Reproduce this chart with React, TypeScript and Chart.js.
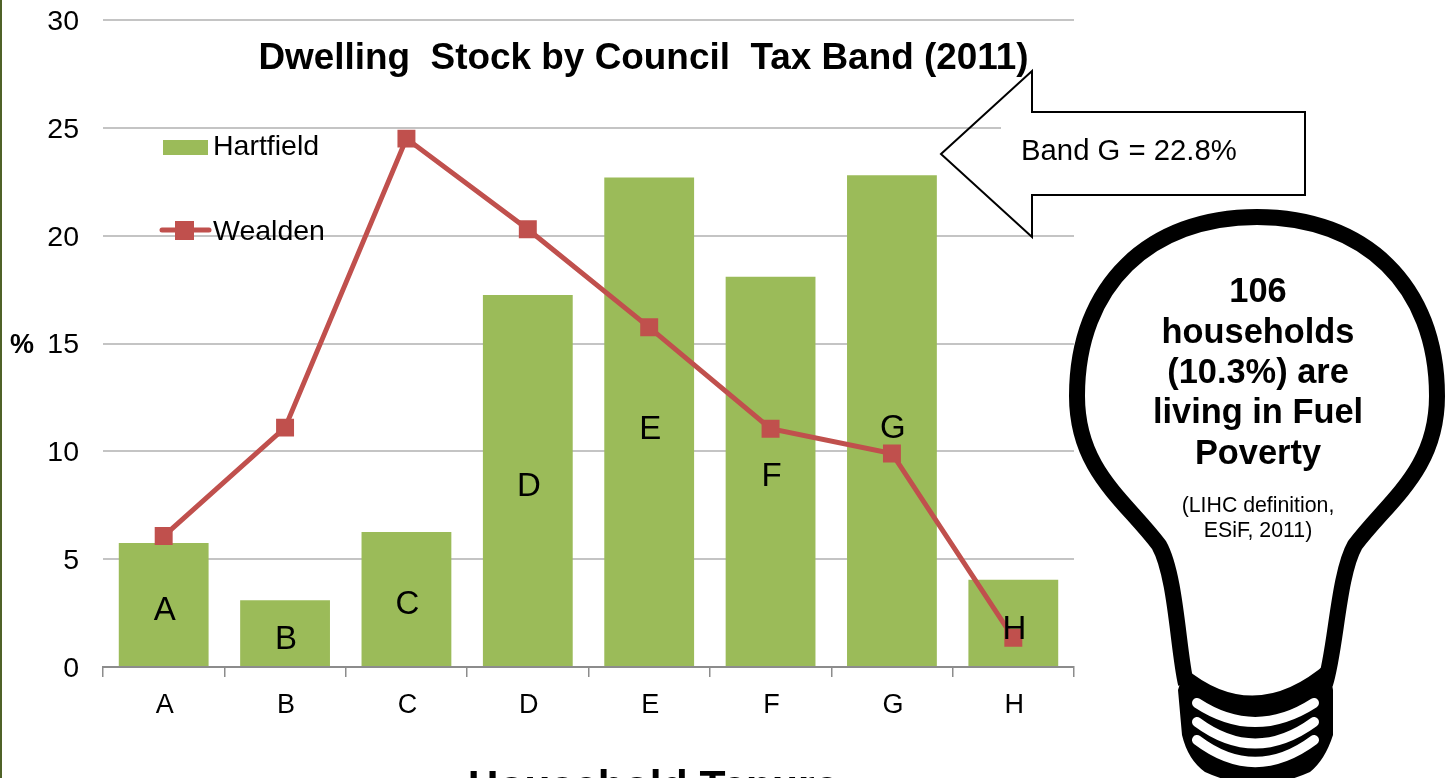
import React, { useEffect, useRef } from "react";
import { Chart, registerables } from "chart.js";

Chart.register(...registerables);

const categories = ["A", "B", "C", "D", "E", "F", "G", "H"];
const hartfield = [5.75, 3.1, 6.26, 17.25, 22.7, 18.1, 22.8, 4.05];
const wealden = [6.07, 11.1, 24.5, 20.3, 15.75, 11.05, 9.9, 1.35];
const barLetterHeights = [2.75, 1.4, 3.0, 8.5, 11.15, 8.95, 11.2, 1.85];
const bulbLines = ["106", "households", "(10.3%) are", "living in Fuel", "Poverty"];
const bulbNote = ["(LIHC definition,", "ESiF, 2011)"];

const FONT = '"Liberation Sans", Arial, sans-serif';
const GREEN = "#9BBB59";
const RED = "#C0504D";

function text(ctx: CanvasRenderingContext2D, s: string, x: number, y: number, font: string, align: CanvasTextAlign = "center") {
  ctx.font = font;
  ctx.fillStyle = "#000";
  ctx.textAlign = align;
  ctx.textBaseline = "middle";
  ctx.fillText(s, x, y);
}

function drawArrow(ctx: CanvasRenderingContext2D) {
  ctx.fillStyle = "#fff";
  ctx.fillRect(1001, 122, 80, 12);
  ctx.beginPath();
  ctx.moveTo(941, 154);
  ctx.lineTo(1032, 71);
  ctx.lineTo(1032, 112);
  ctx.lineTo(1305, 112);
  ctx.lineTo(1305, 195);
  ctx.lineTo(1032, 195);
  ctx.lineTo(1032, 237);
  ctx.closePath();
  ctx.strokeStyle = "#000";
  ctx.lineWidth = 2;
  ctx.lineJoin = "miter";
  ctx.stroke();
  text(ctx, "Band G = 22.8%", 1021, 152, `29.3px ${FONT}`, "left");
}

function drawBulb(ctx: CanvasRenderingContext2D) {
  ctx.beginPath();
  ctx.moveTo(1186, 684);
  ctx.bezierCurveTo(1178, 650, 1176, 575, 1159, 545);
  ctx.bezierCurveTo(1125, 500, 1077, 470, 1077, 396);
  ctx.bezierCurveTo(1077, 285, 1150, 217, 1257, 217);
  ctx.bezierCurveTo(1364, 217, 1437, 285, 1437, 396);
  ctx.bezierCurveTo(1437, 470, 1389, 500, 1355, 545);
  ctx.bezierCurveTo(1338, 575, 1336, 650, 1325, 684);
  ctx.fillStyle = "#fff";
  ctx.fill();
  ctx.strokeStyle = "#000";
  ctx.lineWidth = 16;
  ctx.lineJoin = "round";
  ctx.stroke();

  ctx.beginPath();
  ctx.moveTo(1185, 668);
  ctx.quadraticCurveTo(1255, 726, 1328, 662);
  ctx.lineTo(1333, 690);
  ctx.lineTo(1333, 735);
  ctx.quadraticCurveTo(1325, 760, 1310, 772);
  ctx.quadraticCurveTo(1257, 796, 1205, 772);
  ctx.quadraticCurveTo(1188, 760, 1182, 735);
  ctx.lineTo(1178, 690);
  ctx.closePath();
  ctx.fillStyle = "#000";
  ctx.fill();

  ctx.strokeStyle = "#fff";
  ctx.lineWidth = 10;
  ctx.lineCap = "round";
  for (const [sideY, ctrlY] of [[703, 741], [722, 765], [740, 784]]) {
    ctx.beginPath();
    ctx.moveTo(1197, sideY);
    ctx.quadraticCurveTo(1255, ctrlY, 1314, sideY);
    ctx.stroke();
  }
  ctx.lineCap = "butt";

  bulbLines.forEach((s, i) => text(ctx, s, 1258, 293 + i * 40.3, `bold 34.4px ${FONT}`));
  bulbNote.forEach((s, i) => text(ctx, s, 1258, 506 + i * 25, `21.3px ${FONT}`));
}

const overlay = {
  id: "overlay",
  afterDraw(chart: any) {
    const ctx: CanvasRenderingContext2D = chart.ctx;
    const x = chart.scales.x;
    const y = chart.scales.y;
    ctx.save();

    ctx.fillStyle = "#4F6228";
    ctx.fillRect(0, 0, 2, 778);

    barLetterHeights.forEach((h, i) => {
      text(ctx, categories[i], x.getPixelForValue(i) + 1, y.getPixelForValue(h) + 3, `33px ${FONT}`);
    });

    text(ctx, "Dwelling  Stock by Council  Tax Band (2011)", 643.5, 59, `bold 36.9px ${FONT}`);
    text(ctx, "Household Tenure", 653, 788, `bold 42.6px ${FONT}`);
    text(ctx, "%", 22, 346, `bold 27px ${FONT}`);

    ctx.fillStyle = GREEN;
    ctx.fillRect(163, 140, 45, 15);
    text(ctx, "Hartfield", 213, 147, `28.5px ${FONT}`, "left");

    ctx.strokeStyle = RED;
    ctx.lineWidth = 5;
    ctx.lineCap = "round";
    ctx.beginPath();
    ctx.moveTo(162, 230);
    ctx.lineTo(209, 230);
    ctx.stroke();
    ctx.lineCap = "butt";
    ctx.fillStyle = RED;
    ctx.fillRect(175, 221, 19, 19);
    text(ctx, "Wealden", 213, 232, `28.5px ${FONT}`, "left");

    drawArrow(ctx);
    drawBulb(ctx);
    ctx.restore();
  },
};

export default function App() {
  const ref = useRef<HTMLCanvasElement>(null);
  useEffect(() => {
    document.body.style.margin = "0";
    const chart = new Chart(ref.current!, {
      type: "bar",
      data: {
        labels: categories,
        datasets: [
          {
            type: "line",
            label: "Wealden",
            data: wealden,
            borderColor: RED,
            backgroundColor: RED,
            borderWidth: 5,
            pointStyle: "rect",
            pointRadius: 12.7,
            pointBackgroundColor: RED,
            pointBorderColor: RED,
            pointBorderWidth: 0,
            tension: 0,
            order: 0,
          },
          {
            type: "bar",
            label: "Hartfield",
            data: hartfield,
            backgroundColor: GREEN,
            categoryPercentage: 1,
            barPercentage: 0.74,
            order: 1,
          },
        ],
      },
      options: {
        responsive: false,
        animation: false,
        devicePixelRatio: 1,
        layout: { padding: { left: 0, top: 20, right: 380, bottom: 0 } },
        plugins: { legend: { display: false }, title: { display: false }, tooltip: { enabled: false } },
        scales: {
          x: {
            afterFit: (s: any) => { s.height = 111; s.paddingLeft = 0; s.paddingRight = 0; },
            grid: { drawOnChartArea: false, drawTicks: true, tickLength: 10, color: "#8c8c8c", lineWidth: 1.5 },
            border: { color: "#8c8c8c", width: 2 },
            ticks: { color: "#000", font: { family: FONT, size: 27 }, padding: 12, labelOffset: 1, maxRotation: 0 },
          },
          y: {
            min: 0,
            max: 30,
            afterFit: (s: any) => { s.width = 103; s.paddingTop = 0; s.paddingBottom = 0; },
            grid: { drawTicks: false, color: "#c4c4c4", lineWidth: 2 },
            border: { display: false },
            ticks: { stepSize: 5, color: "#000", font: { family: FONT, size: 28.5 }, padding: 24, labelOffset: 2 },
          },
        },
      },
      plugins: [overlay],
    } as any);
    return () => chart.destroy();
  }, []);
  return (
    <canvas
      ref={ref}
      width={1454}
      height={778}
      style={{ position: "absolute", left: 0, top: 0, display: "block", background: "#fff" }}
    />
  );
}
